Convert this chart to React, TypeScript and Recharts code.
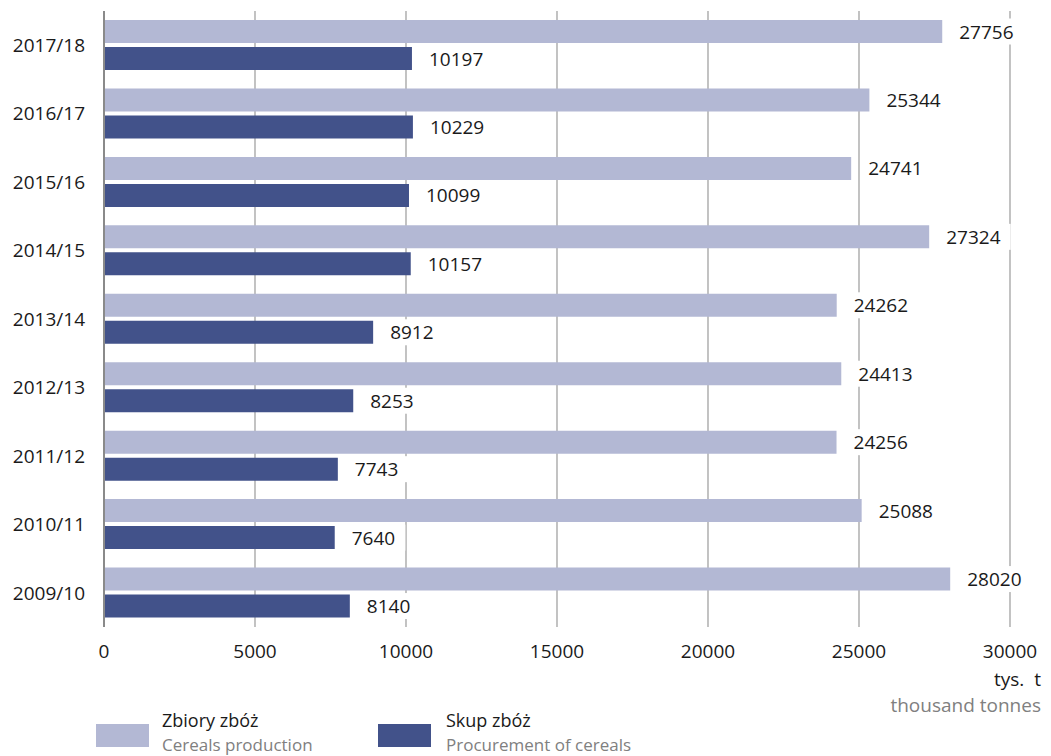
import React from 'react';
import { BarChart, Bar, XAxis, YAxis, CartesianGrid, LabelList } from 'recharts';

const years = ['2017/18', '2016/17', '2015/16', '2014/15', '2013/14', '2012/13', '2011/12', '2010/11', '2009/10'];
const production = [27756, 25344, 24741, 27324, 24262, 24413, 24256, 25088, 28020];
const procurement = [10197, 10229, 10099, 10157, 8912, 8253, 7743, 7640, 8140];
const xTicks = [0, 5000, 10000, 15000, 20000, 25000, 30000];

const seriesNames = ['Zbiory zbóż', 'Skup zbóż'];
const seriesNamesEn = ['Cereals production', 'Procurement of cereals'];
const unitPl = 'tys.\u00a0 t';
const unitEn = 'thousand tonnes';

const LIGHT = '#b3b8d4';
const DARK = '#42528a';
const FONT = '"Open Sans", sans-serif';

const data = years.map((y, i) => ({ year: y, production: production[i], procurement: procurement[i] }));

const ValueLabel = (props: any) => {
  const { x, y, width, height, value } = props;
  const tx = x + width + 17;
  const cy = y + height / 2;
  const s = String(value);
  const tw = s.length * 10.9;
  return (
    <g>
      <rect x={tx - 8} y={cy - 13} width={tw + 18} height={26} fill="#ffffff" />
      <text x={tx} y={cy} dominantBaseline="central" fontSize={19} fontFamily={FONT} fill="#1a1a1a">
        {s}
      </text>
    </g>
  );
};

export default function App() {
  return (
    <div style={{ position: 'absolute', left: 0, top: 0, width: 1051, height: 756, background: '#fff', overflow: 'hidden' }}>
      <BarChart
        width={1051}
        height={756}
        data={data}
        layout="vertical"
        margin={{ top: 11, right: 41, left: 0, bottom: 99 }}
        barSize={23}
        barGap={4}
      >
        <CartesianGrid horizontal={false} vertical={true} stroke="#9a9a9a" strokeWidth={1.2} />
        <XAxis
          type="number"
          domain={[0, 30000]}
          ticks={xTicks}
          axisLine={false}
          tickLine={false}
          tickSize={0}
          tickMargin={18}
          height={30}
          interval={0}
          tick={{ fontSize: 19, fontFamily: FONT, fill: '#1a1a1a' }}
        />
        <YAxis
          type="category"
          dataKey="year"
          width={104}
          axisLine={{ stroke: '#8a8a8a', strokeWidth: 2 }}
          tickLine={false}
          tickSize={0}
          tickMargin={19}
          interval={0}
          tick={{ fontSize: 19, fontFamily: FONT, fill: '#1a1a1a' }}
        />
        <Bar dataKey="production" fill={LIGHT} isAnimationActive={false}>
          <LabelList dataKey="production" content={ValueLabel} />
        </Bar>
        <Bar dataKey="procurement" fill={DARK} isAnimationActive={false}>
          <LabelList dataKey="procurement" content={ValueLabel} />
        </Bar>
      </BarChart>
      <svg width={1051} height={756} style={{ position: 'absolute', left: 0, top: 0, pointerEvents: 'none' }}>
        <text x={1041} y={686} textAnchor="end" fontSize={19} fontFamily={FONT} fill="#1a1a1a">{unitPl}</text>
        <text x={1041} y={712} textAnchor="end" fontSize={19} fontFamily={FONT} fill="#808080">{unitEn}</text>
        <rect x={96} y={724} width={53} height={23} fill={LIGHT} />
        <text x={162} y={727} fontSize={18} fontFamily={FONT} fill="#1a1a1a">{seriesNames[0]}</text>
        <text x={162} y={751} fontSize={17} fontFamily={FONT} fill="#808080">{seriesNamesEn[0]}</text>
        <rect x={378} y={724} width={53} height={23} fill={DARK} />
        <text x={446} y={727} fontSize={18} fontFamily={FONT} fill="#1a1a1a">{seriesNames[1]}</text>
        <text x={446} y={751} fontSize={17} fontFamily={FONT} fill="#808080">{seriesNamesEn[1]}</text>
      </svg>
    </div>
  );
}
